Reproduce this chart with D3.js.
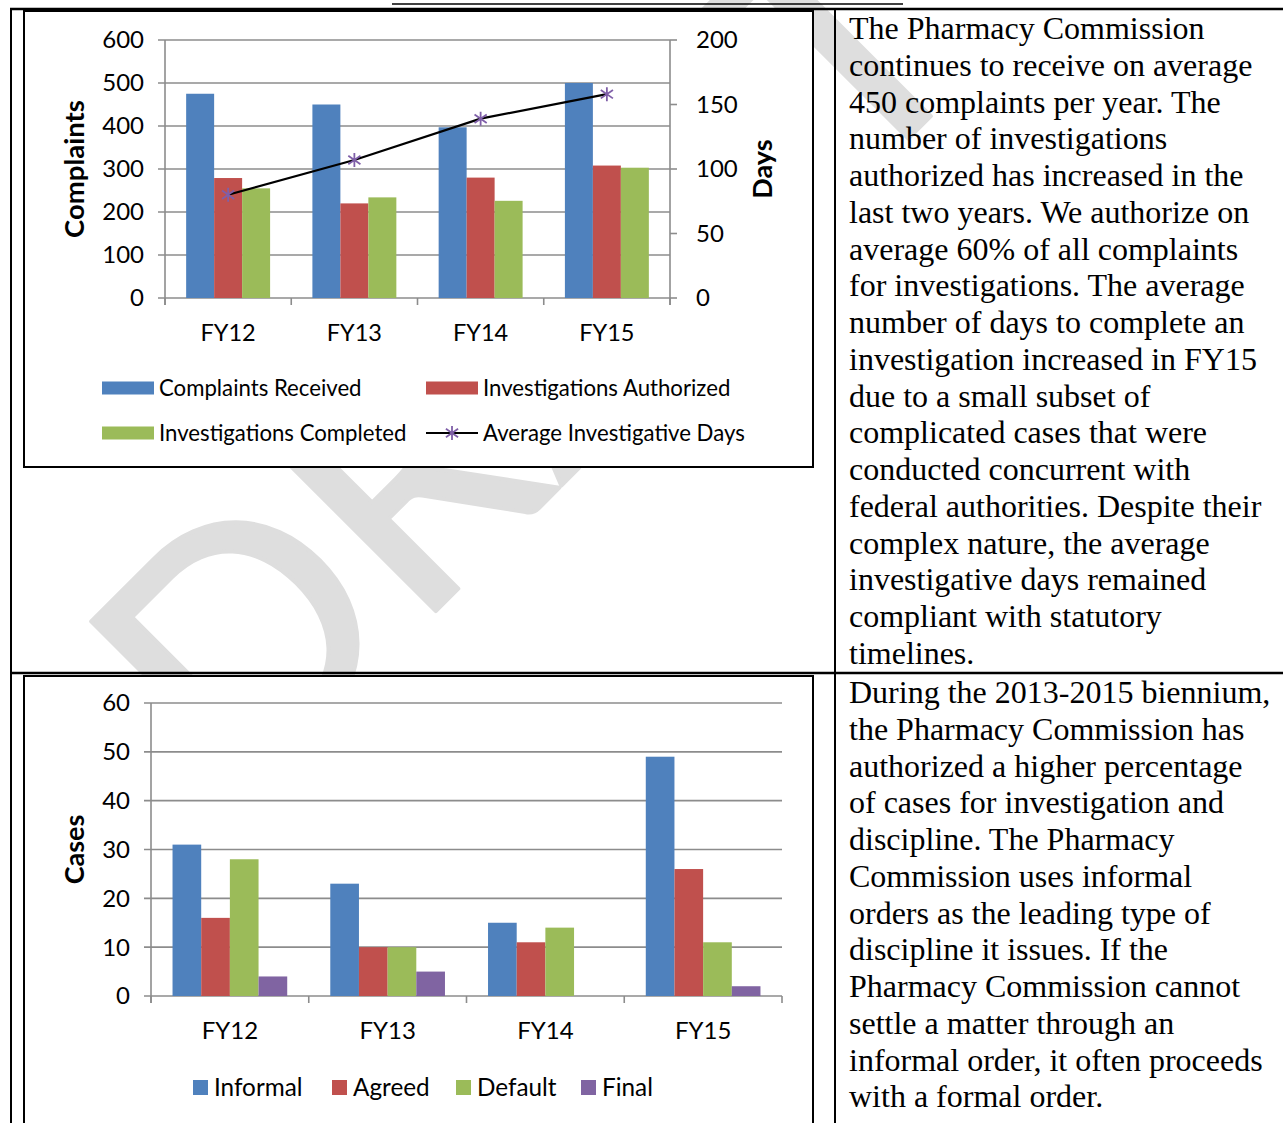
<!DOCTYPE html>
<html>
<head>
<meta charset="utf-8">
<script src="https://cdn.jsdelivr.net/npm/d3@7"></script>
<style>
  html, body { margin: 0; padding: 0; background: #fff; }
  svg { display: block; }
</style>
</head>
<body>
<svg id="page" width="1283" height="1123"></svg>
<script>
// ---- data ----
const years = ["FY12", "FY13", "FY14", "FY15"];

const complaintsReceived       = [475, 450, 397, 500];
const investigationsAuthorized = [279, 220, 280, 308];
const investigationsCompleted  = [255, 234, 226, 303];
const avgInvestigativeDays     = [80, 107, 139, 158];
const complaintTicks = [0, 100, 200, 300, 400, 500, 600];
const dayTicks = [0, 50, 100, 150, 200];

const informalOrders = [31, 23, 15, 49];
const agreedOrders   = [16, 10, 11, 26];
const defaultOrders  = [28, 10, 14, 11];
const finalOrders    = [4, 5, 0, 2];
const caseTicks = [0, 10, 20, 30, 40, 50, 60];

const complaintSeries = ["Complaints Received", "Investigations Authorized", "Investigations Completed"];
const lineSeries = "Average Investigative Days";
const orderSeries = ["Informal", "Agreed", "Default", "Final"];

const paragraphOne = [
  "The Pharmacy Commission",
  "continues to receive on average",
  "450 complaints per year. The",
  "number of investigations",
  "authorized has increased in the",
  "last two years. We authorize on",
  "average 60% of all complaints",
  "for investigations. The average",
  "number of days to complete an",
  "investigation increased in FY15",
  "due to a small subset of",
  "complicated cases that were",
  "conducted concurrent with",
  "federal authorities. Despite their",
  "complex nature, the average",
  "investigative days remained",
  "compliant with statutory",
  "timelines."
];
const paragraphTwo = [
  "During the 2013-2015 biennium,",
  "the Pharmacy Commission has",
  "authorized a higher percentage",
  "of cases for investigation and",
  "discipline. The Pharmacy",
  "Commission uses informal",
  "orders as the leading type of",
  "discipline it issues. If the",
  "Pharmacy Commission cannot",
  "settle a matter through an",
  "informal order, it often proceeds",
  "with a formal order."
];

// ---- styling ----
const palette = ["#4f81bd", "#c0504d", "#9bbb59", "#8064a2"];
const markerColor = "#7f5fa8";
const gridColor = "#8c8c8c";
const sans = "Lato, 'Open Sans', sans-serif";
const serif = "'Liberation Serif', 'Times New Roman', serif";

const svg = d3.select("#page");

// ---- DRAFT watermark (behind everything) ----
svg.append("text")
  .attr("transform", "translate(237,810) rotate(-45)")
  .attr("font-family", sans)
  .attr("font-size", 330)
  .attr("fill", "#dedede")
  .attr("stroke", "#dedede")
  .attr("stroke-width", 4)
  .attr("stroke-linejoin", "round")
  .text("DRAFT");

// ---- layout table ----
const tableLines = svg.append("g").attr("stroke", "#000");
tableLines.append("line").attr("x1", 10).attr("x2", 1283).attr("y1", 9).attr("y2", 9).attr("stroke-width", 2.5);
tableLines.append("line").attr("x1", 11).attr("x2", 11).attr("y1", 9).attr("y2", 1123).attr("stroke-width", 2);
tableLines.append("line").attr("x1", 835).attr("x2", 835).attr("y1", 9).attr("y2", 1123).attr("stroke-width", 2);
tableLines.append("line").attr("x1", 10).attr("x2", 1283).attr("y1", 673).attr("y2", 673).attr("stroke-width", 2.5);
// heading underline at the very top
svg.append("line").attr("x1", 392).attr("x2", 903).attr("y1", 4).attr("y2", 4)
  .attr("stroke", "#000").attr("stroke-width", 1.5);

// chart frames
svg.append("rect").attr("x", 24).attr("y", 11).attr("width", 789).attr("height", 456)
  .attr("fill", "#fff").attr("stroke", "#000").attr("stroke-width", 2);
svg.append("rect").attr("x", 24).attr("y", 676).attr("width", 789).attr("height", 460)
  .attr("fill", "#fff").attr("stroke", "#000").attr("stroke-width", 2);

// ---- paragraphs ----
function paragraph(lines, x, y0, lh) {
  svg.append("g").selectAll("text").data(lines).join("text")
    .attr("x", x).attr("y", (d, i) => y0 + i * lh)
    .attr("font-family", serif).attr("font-size", 32).attr("fill", "#000")
    .text(d => d);
}
paragraph(paragraphOne, 849, 39, 36.76);
paragraph(paragraphTwo, 849, 703, 36.76);

// ---- star marker ----
function star(g, cx, cy, r) {
  const p = d3.path();
  p.moveTo(cx, cy - r); p.lineTo(cx, cy + r);
  p.moveTo(cx - r * 0.87, cy - r * 0.6); p.lineTo(cx + r * 0.87, cy + r * 0.6);
  p.moveTo(cx - r * 0.87, cy + r * 0.6); p.lineTo(cx + r * 0.87, cy - r * 0.6);
  g.append("path").attr("d", p.toString()).attr("stroke", markerColor)
    .attr("stroke-width", 1.8).attr("fill", "none");
}

// ---- generic gridded axes ----
function drawFrame(g, x0, y, ticks, left, right) {
  const [top, bottom] = [y.range()[1], y.range()[0]];
  g.append("g").selectAll("line").data(ticks).join("line")
    .attr("x1", left - 7).attr("x2", right)
    .attr("y1", d => y(d)).attr("y2", d => y(d))
    .attr("stroke", gridColor).attr("stroke-width", 1.6);
  g.append("line").attr("x1", left).attr("x2", left).attr("y1", top).attr("y2", bottom + 7)
    .attr("stroke", gridColor).attr("stroke-width", 1.6);
  const bounds = d3.range(years.length + 1).map(i => x0.range()[0] + i * x0.step());
  g.append("g").selectAll("line").data(bounds).join("line")
    .attr("x1", d => d).attr("x2", d => d).attr("y1", bottom).attr("y2", bottom + 7)
    .attr("stroke", gridColor).attr("stroke-width", 1.6);
}

// =============== Chart 1: complaints ===============
{
  const left = 165, right = 670, top = 40, bottom = 298;
  const g = svg.append("g");
  const x0 = d3.scaleBand().domain(years).range([left, right]).paddingInner(0.335).paddingOuter(0.1675);
  const x1 = d3.scaleBand().domain(complaintSeries).range([0, x0.bandwidth()]);
  const y = d3.scaleLinear().domain([0, 600]).range([bottom, top]);
  const yR = d3.scaleLinear().domain([0, 200]).range([bottom, top]);

  drawFrame(g, x0, y, complaintTicks, left, right);

  g.append("line").attr("x1", right).attr("x2", right).attr("y1", top).attr("y2", bottom + 7)
    .attr("stroke", gridColor).attr("stroke-width", 1.6);
  g.append("g").selectAll("line").data(dayTicks).join("line")
    .attr("x1", right).attr("x2", right + 7).attr("y1", d => yR(d)).attr("y2", d => yR(d))
    .attr("stroke", gridColor).attr("stroke-width", 1.6);

  const values = [complaintsReceived, investigationsAuthorized, investigationsCompleted];
  const rows = years.map((yr, i) => complaintSeries.map((s, k) => ({ yr, s, k, v: values[k][i] })));
  g.append("g").selectAll("g").data(rows).join("g")
    .selectAll("rect").data(d => d).join("rect")
    .attr("x", d => x0(d.yr) + x1(d.s))
    .attr("width", x1.bandwidth())
    .attr("y", d => y(d.v))
    .attr("height", d => y(0) - y(d.v))
    .attr("fill", d => palette[d.k]);

  const pts = years.map((yr, i) => [x0(yr) + x0.bandwidth() / 2, yR(avgInvestigativeDays[i])]);
  g.append("path").attr("d", d3.line()(pts)).attr("fill", "none")
    .attr("stroke", "#000").attr("stroke-width", 2.2);
  pts.forEach(p => star(g, p[0], p[1], 7));

  g.append("g").selectAll("text").data(complaintTicks).join("text")
    .attr("x", left - 21).attr("y", d => y(d)).attr("dy", "0.35em")
    .attr("text-anchor", "end").attr("font-family", sans).attr("font-size", 24)
    .text(d => d);
  g.append("g").selectAll("text").data(dayTicks).join("text")
    .attr("x", right + 26).attr("y", d => yR(d)).attr("dy", "0.35em")
    .attr("text-anchor", "start").attr("font-family", sans).attr("font-size", 24)
    .text(d => d);
  g.append("g").selectAll("text").data(years).join("text")
    .attr("x", d => x0(d) + x0.bandwidth() / 2).attr("y", bottom + 35).attr("dy", "0.35em")
    .attr("text-anchor", "middle").attr("font-family", sans).attr("font-size", 23.5)
    .text(d => d);

  g.append("text").attr("transform", `translate(84,${(top + bottom) / 2}) rotate(-90)`)
    .attr("text-anchor", "middle").attr("font-family", sans).attr("font-weight", 700)
    .attr("font-size", 27.5).text("Complaints");
  g.append("text").attr("transform", `translate(772,${(top + bottom) / 2}) rotate(-90)`)
    .attr("text-anchor", "middle").attr("font-family", sans).attr("font-weight", 700)
    .attr("font-size", 27).text("Days");

  const leg = [
    { x: 102, y: 388, label: complaintSeries[0], k: 0 },
    { x: 426, y: 388, label: complaintSeries[1], k: 1 },
    { x: 102, y: 433, label: complaintSeries[2], k: 2 },
    { x: 426, y: 433, label: lineSeries, k: -1 }
  ];
  leg.forEach(d => {
    if (d.k >= 0) {
      g.append("rect").attr("x", d.x).attr("y", d.y - 6.5).attr("width", 52).attr("height", 13)
        .attr("fill", palette[d.k]);
    } else {
      g.append("line").attr("x1", d.x).attr("x2", d.x + 52).attr("y1", d.y).attr("y2", d.y)
        .attr("stroke", "#000").attr("stroke-width", 2.2);
      star(g, d.x + 26, d.y, 7);
    }
    g.append("text").attr("x", d.x + 57).attr("y", d.y).attr("dy", "0.35em")
      .attr("font-family", sans).attr("font-size", 22.2).text(d.label);
  });
}

// =============== Chart 2: disciplinary orders ===============
{
  const left = 151, right = 782, top = 703, bottom = 996;
  const g = svg.append("g");
  const x0 = d3.scaleBand().domain(years).range([left, right]).paddingInner(0.273).paddingOuter(0.1365);
  const x1 = d3.scaleBand().domain(orderSeries).range([0, x0.bandwidth()]);
  const y = d3.scaleLinear().domain([0, 60]).range([bottom, top]);

  drawFrame(g, x0, y, caseTicks, left, right);

  const values = [informalOrders, agreedOrders, defaultOrders, finalOrders];
  const rows = years.map((yr, i) => orderSeries.map((s, k) => ({ yr, s, k, v: values[k][i] })));
  g.append("g").selectAll("g").data(rows).join("g")
    .selectAll("rect").data(d => d.filter(e => e.v > 0)).join("rect")
    .attr("x", d => x0(d.yr) + x1(d.s))
    .attr("width", x1.bandwidth())
    .attr("y", d => y(d.v))
    .attr("height", d => y(0) - y(d.v))
    .attr("fill", d => palette[d.k]);

  g.append("g").selectAll("text").data(caseTicks).join("text")
    .attr("x", left - 21).attr("y", d => y(d)).attr("dy", "0.35em")
    .attr("text-anchor", "end").attr("font-family", sans).attr("font-size", 24)
    .text(d => d);
  g.append("g").selectAll("text").data(years).join("text")
    .attr("x", d => x0(d) + x0.bandwidth() / 2).attr("y", bottom + 35).attr("dy", "0.35em")
    .attr("text-anchor", "middle").attr("font-family", sans).attr("font-size", 24)
    .text(d => d);

  g.append("text").attr("transform", `translate(84,${(top + bottom) / 2}) rotate(-90)`)
    .attr("text-anchor", "middle").attr("font-family", sans).attr("font-weight", 700)
    .attr("font-size", 27).text("Cases");

  const legX = [193, 332, 456, 581];
  orderSeries.forEach((s, k) => {
    g.append("rect").attr("x", legX[k]).attr("y", 1080).attr("width", 15).attr("height", 15)
      .attr("fill", palette[k]);
    g.append("text").attr("x", legX[k] + 21).attr("y", 1087.5).attr("dy", "0.35em")
      .attr("font-family", sans).attr("font-size", 24.3).text(s);
  });
}
</script>
</body>
</html>
